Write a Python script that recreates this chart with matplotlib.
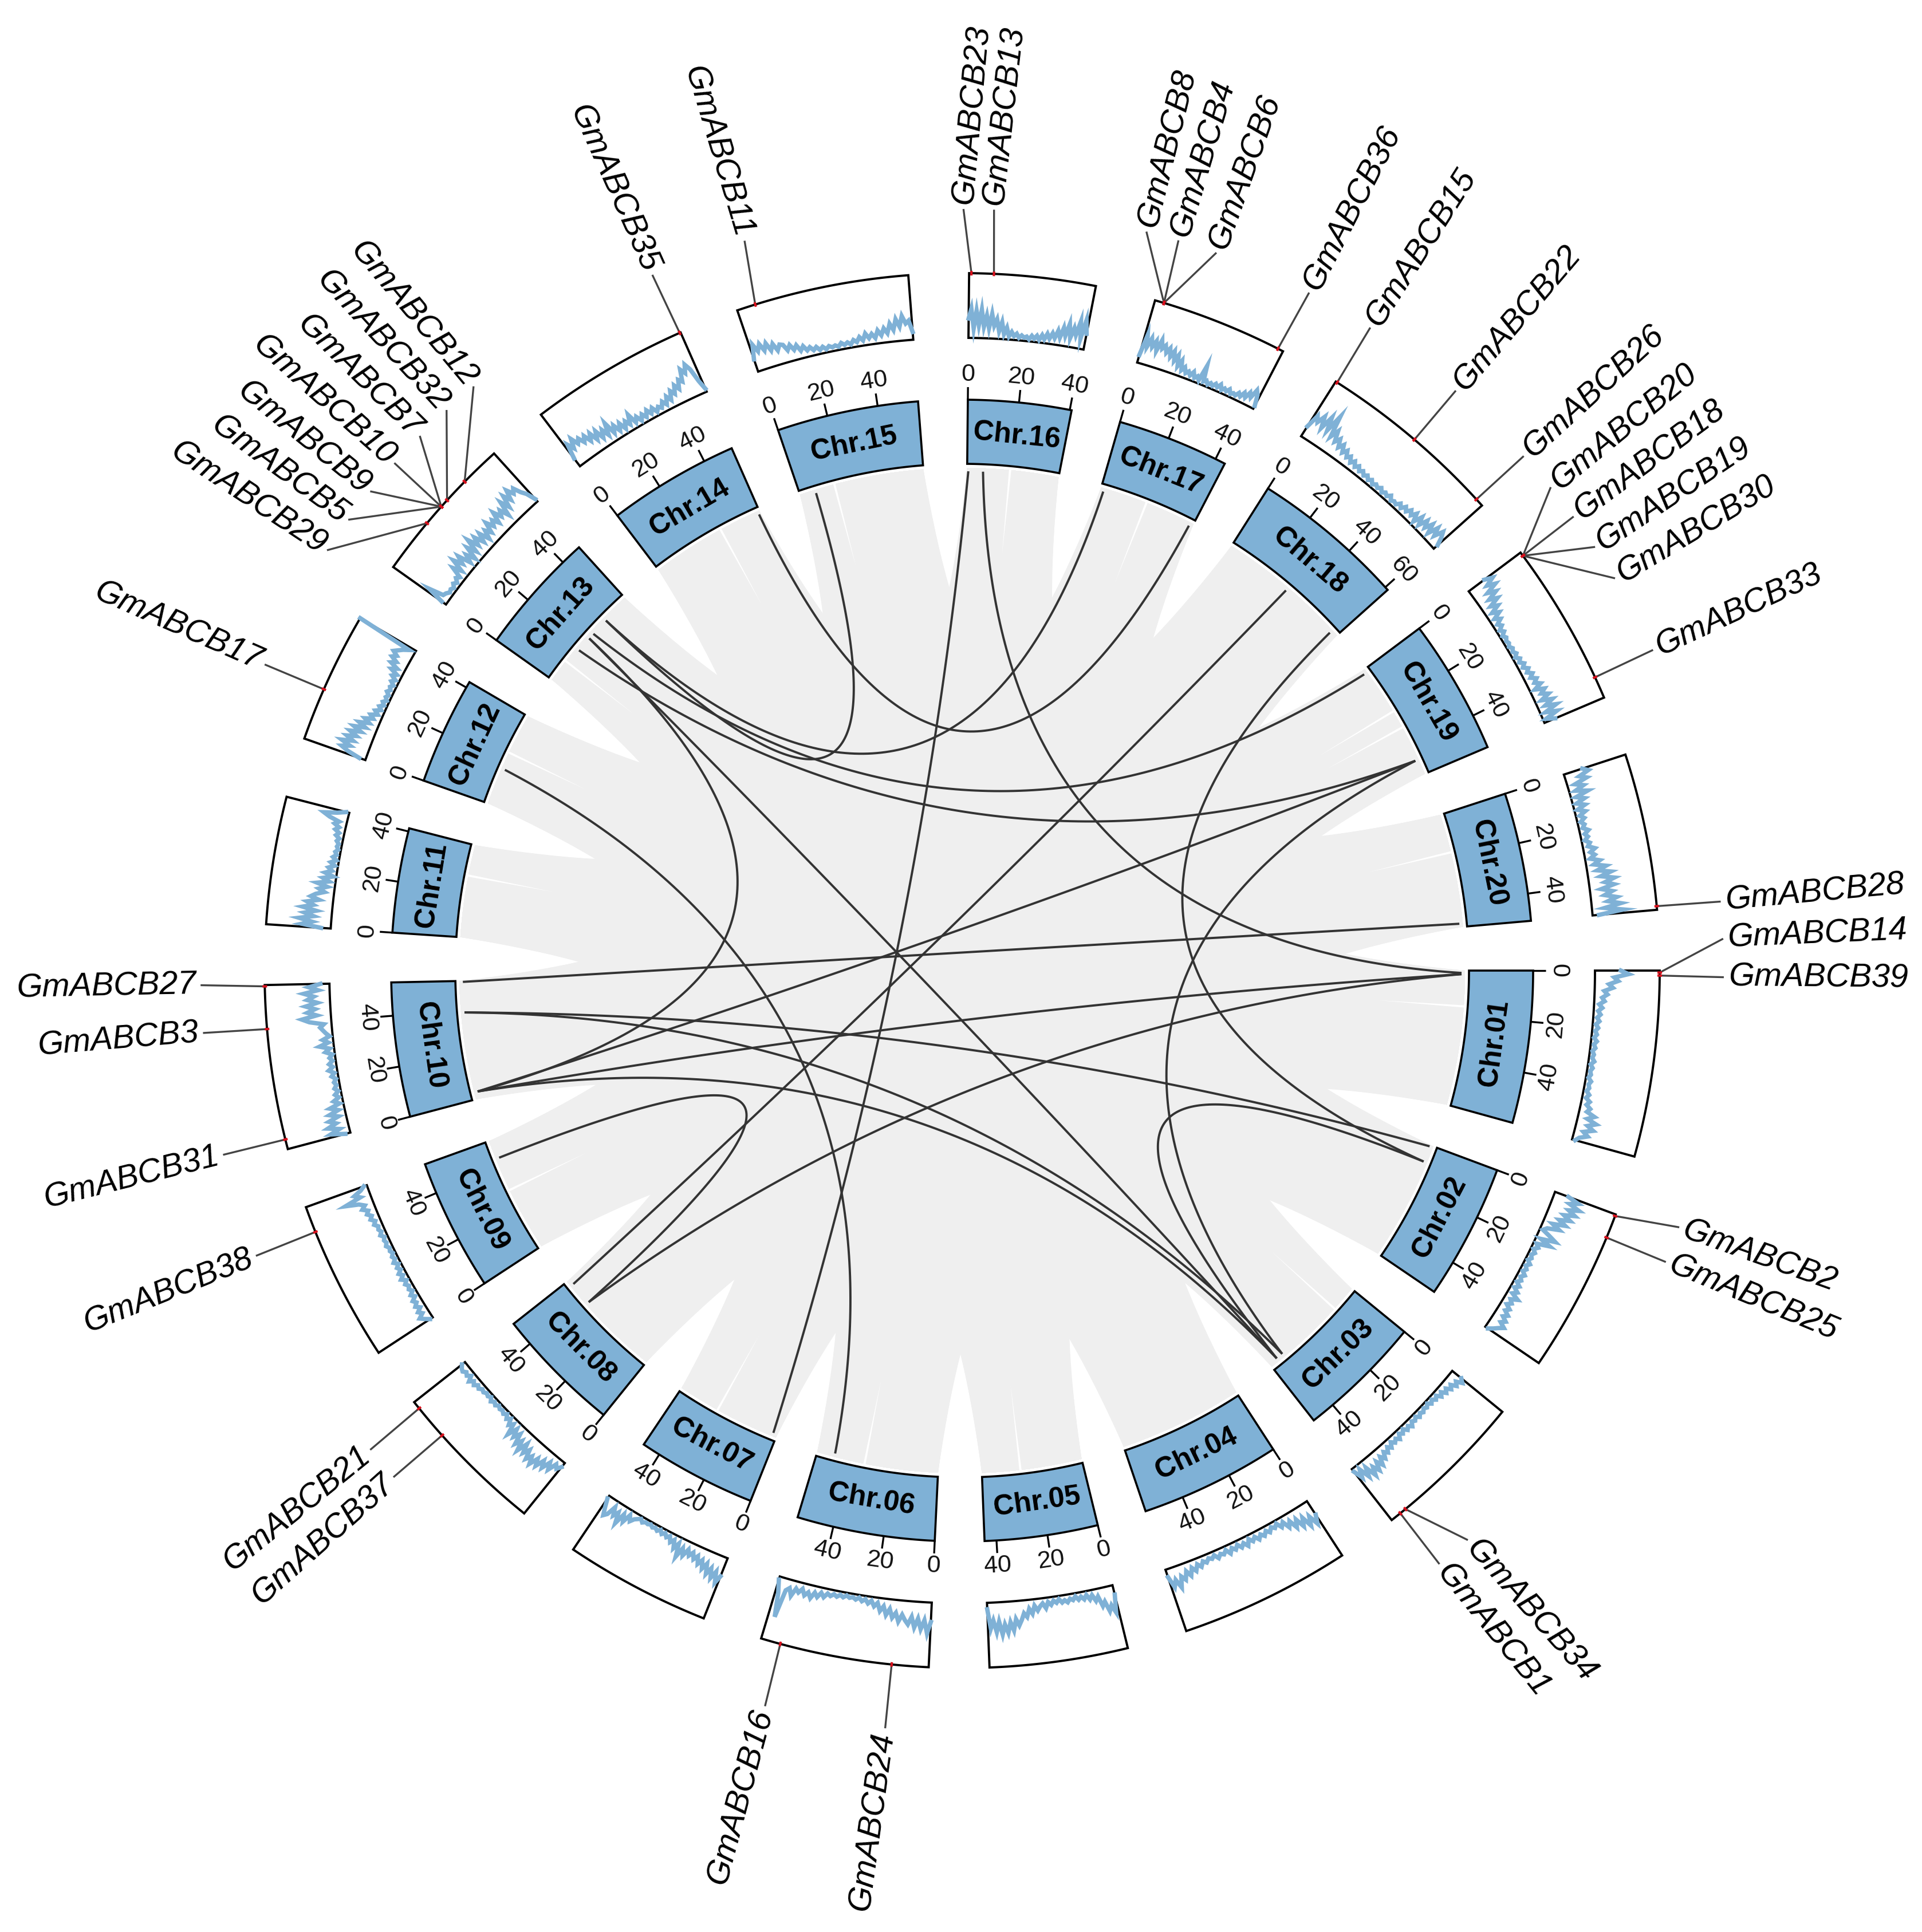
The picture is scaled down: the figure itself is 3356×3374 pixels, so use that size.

import numpy as np
import matplotlib
matplotlib.use("Agg")
import matplotlib.pyplot as plt
from matplotlib.patches import Polygon

plt.rcParams['font.family'] = ['Liberation Sans', 'DejaVu Sans']

#%% Data.
chr_names = ["Chr.%02d" % i for i in range(1, 21)]
# Chromosome length, in map units of the ring.
chr_len = [56.8, 50.6, 46.8, 52.4, 42.2, 51.4, 44.6, 47.3, 49.2, 50.1,
           39.0, 40.1, 45.9, 49.0, 52.8, 38.5, 41.6, 58.0, 50.6, 47.9]
# One Mb of the tick labels in map units.
tick_unit = 0.945

# Gene density tracks, 0 at the inner edge of the box.
chr01 = [.40,.52,.30,.36,.22,.28,.15,.20,.12,.16,.08,.13,.07,.11,.06,.10,.05,.09,.05,.08,.04,.09,.05,.08,.04,.07,.05,.09,.04,.08,.05,.07,.04,.09,.06,.08,.05,.10,.06,.13,.09,.16,.12,.25,.15,.30,.18,.28,.14,.22,.10,.05]
chr02 = [.22,.40,.28,.45,.30,.42,.26,.38,.22,.34,.15,.28,.10,.05,.18,.30,.08,.25,.05,.10,.04,.09,.05,.08,.04,.10,.05,.09,.05,.11,.06,.10,.05,.12,.06,.14,.08,.20,.10,.15,.09,.17,.12,.20,.14,.22,.16,.25,.18,.12,.05]
chr03 = [.18,.24,.15,.20,.12,.17,.10,.15,.08,.13,.06,.10,.05,.09,.04,.08,.05,.09,.06,.10,.05,.09,.06,.12,.07,.11,.05,.10,.06,.13,.08,.12,.07,.14,.09,.16,.11,.20,.13,.25,.15,.28,.18,.30,.12,.25,.08,.20,.05]
chr04 = [.25,.38,.22,.35,.18,.30,.15,.26,.12,.20,.08,.14,.05,.10,.06,.12,.07,.13,.08,.14,.07,.12,.06,.15,.08,.13,.06,.12,.07,.14,.06,.11,.08,.13,.06,.10,.07,.12,.08,.15,.09,.18,.11,.22,.13,.25,.18,.34,.20,.30,.12]
chr05 = [.15,.42,.30,.38,.22,.28,.12,.18,.08,.14,.06,.12,.07,.11,.05,.10,.07,.12,.08,.11,.05,.10,.06,.12,.07,.16,.08,.12,.18,.10,.22,.14,.26,.20,.30,.38,.28,.45,.32,.48,.35,.50,.30,.46,.28,.40,.10]
chr06 = [.30,.48,.28,.42,.26,.40,.24,.36,.30,.22,.33,.20,.28,.15,.25,.12,.20,.08,.14,.06,.11,.05,.09,.04,.08,.05,.07,.04,.08,.05,.09,.06,.10,.07,.14,.08,.16,.10,.20,.12,.18,.09,.16,.11,.24,.13,.18,.62,.25,.05]
chr07 = [.30,.42,.26,.38,.24,.35,.20,.30,.18,.26,.15,.22,.13,.20,.12,.24,.14,.30,.10,.20,.08,.14,.06,.10,.05,.09,.04,.08,.05,.07,.04,.06,.05,.08,.04,.07,.10,.16,.08,.22,.12,.30,.14,.22,.10,.25,.30,.18,.05]
chr08 = [.08,.15,.10,.24,.14,.28,.18,.32,.22,.36,.25,.34,.20,.30,.16,.33,.18,.28,.12,.22,.10,.25,.08,.14,.05,.10,.04,.08,.05,.07,.04,.08,.05,.09,.04,.07,.05,.08,.06,.10,.07,.12,.08,.14,.06,.11,.08,.12,.10,.06]
chr09 = [.05,.12,.18,.10,.15,.08,.14,.09,.13,.06,.11,.05,.09,.06,.10,.05,.12,.06,.11,.05,.09,.04,.10,.05,.08,.04,.07,.05,.09,.06,.08,.05,.10,.06,.09,.07,.12,.08,.14,.10,.16,.12,.20,.14,.22,.42,.16,.24,.12,.05]
chr10 = [.08,.30,.15,.32,.18,.28,.12,.25,.10,.22,.06,.14,.05,.10,.04,.09,.05,.08,.04,.10,.05,.13,.06,.11,.05,.09,.04,.14,.07,.22,.08,.16,.05,.10,.14,.18,.12,.34,.45,.22,.36,.24,.38,.20,.35,.25,.40,.18,.32,.14]
chr11 = [.15,.45,.30,.50,.28,.42,.25,.46,.30,.40,.22,.35,.28,.15,.24,.12,.28,.10,.20,.05,.18,.08,.14,.05,.12,.04,.10,.05,.08,.04,.07,.05,.09,.06,.12,.08,.15,.10,.18,.12,.28,.38,.18,.05]
chr12 = [.10,.30,.42,.30,.45,.28,.40,.26,.38,.22,.35,.18,.30,.15,.24,.12,.18,.08,.14,.06,.11,.05,.09,.04,.08,.05,.10,.06,.09,.05,.11,.06,.14,.08,.20,.12,.25,.18,.28,.22,.30,.24,.18,.10,1.0]
chr13 = [.08,.35,.12,.10,.06,.08,.05,.10,.06,.12,.08,.25,.12,.32,.18,.30,.10,.22,.08,.28,.14,.35,.18,.30,.15,.28,.12,.25,.16,.32,.20,.28,.18,.35,.22,.30,.16,.38,.24,.42,.30,.45,.34,.40,.28,.20,.05]
chr14 = [.15,.38,.28,.42,.30,.36,.26,.34,.22,.32,.18,.30,.15,.26,.14,.32,.12,.22,.10,.20,.08,.18,.10,.24,.08,.15,.06,.14,.07,.16,.08,.15,.06,.12,.08,.16,.09,.20,.12,.25,.18,.30,.22,.35,.30,.48,.40,.52,.42,.20,.05]
chr15 = [.20,.42,.30,.40,.28,.38,.25,.34,.22,.30,.28,.18,.25,.16,.22,.12,.18,.10,.14,.08,.12,.06,.10,.05,.09,.06,.08,.05,.10,.06,.09,.05,.11,.07,.14,.08,.18,.10,.16,.09,.20,.12,.22,.14,.28,.18,.34,.22,.38,.26,.30,.12]
chr16 = [.30,.45,.15,.42,.20,.44,.18,.35,.16,.38,.20,.30,.12,.26,.08,.18,.05,.12,.06,.10,.04,.08,.05,.07,.03,.09,.05,.10,.04,.12,.06,.15,.08,.17,.10,.22,.12,.28,.16,.35,.14,.30,.20,.42,.16,.45,.25]
chr17 = [.12,.45,.28,.42,.30,.40,.26,.44,.32,.38,.28,.36,.24,.34,.20,.30,.14,.24,.10,.16,.08,.12,.07,.14,.06,.10,.05,.30,.06,.09,.04,.08,.05,.10,.06,.12,.05,.09,.06,.11,.05,.08,.06,.12,.08,.16,.10,.20,.14,.28,.22,.05]
chr18 = [.18,.40,.32,.45,.28,.50,.30,.58,.25,.38,.22,.30,.18,.26,.15,.22,.13,.18,.10,.16,.09,.14,.08,.12,.07,.11,.06,.10,.05,.09,.06,.10,.05,.09,.06,.11,.05,.08,.06,.12,.07,.14,.09,.16,.10,.18,.06,.20,.08,.22,.12,.24,.10,.26,.14,.28,.20,.08]
chr19 = [.30,.42,.28,.40,.22,.34,.18,.30,.14,.24,.10,.20,.08,.16,.07,.12,.05,.10,.04,.08,.05,.07,.04,.08,.05,.09,.04,.10,.06,.12,.07,.14,.09,.16,.10,.18,.12,.20,.08,.22,.14,.24,.10,.26,.12,.28,.08,.25,.05,.18]
chr20 = [.30,.38,.22,.32,.12,.24,.10,.28,.08,.20,.06,.18,.05,.16,.06,.12,.05,.10,.06,.14,.07,.11,.05,.12,.08,.18,.10,.16,.08,.22,.12,.30,.16,.36,.20,.40,.25,.38,.18,.34,.22,.40,.26,.45,.20,.48,.10]
tracks = [chr01, chr02, chr03, chr04, chr05, chr06, chr07, chr08, chr09, chr10,
          chr11, chr12, chr13, chr14, chr15, chr16, chr17, chr18, chr19, chr20]

# Duplicated gene pairs: chromosome, position, chromosome, position.
links = [(20, 46.5, 10, 49.7), (16, 0.5, 7, 1.7), (16, 6.7, 1, 1.0), (10, 36.8, 2, 0.5),
         (10, 36.8, 3, 40.0), (10, 3.0, 3, 43.0), (10, 3.0, 13, 23.3), (10, 3.0, 19, 44.0),
         (10, 3.0, 1, 1.5), (9, 41.2, 8, 34.9), (8, 44.9, 18, 29.5), (8, 34.9, 1, 1.5),
         (12, 15.7, 6, 44.0), (13, 23.3, 3, 43.0), (13, 33.6, 15, 6.6), (13, 33.6, 17, 1.3),
         (14, 48.3, 17, 40.2), (13, 16.7, 19, 44.0), (13, 25.9, 19, 1.6), (19, 44.0, 3, 40.0),
         (18, 55.2, 2, 7.4), (2, 7.4, 3, 43.0)]

# Gene labels: name, chromosome, position.
gene_names = ["GmABCB28", "GmABCB14", "GmABCB39", "GmABCB2", "GmABCB25", "GmABCB34", "GmABCB1",
              "GmABCB24", "GmABCB16", "GmABCB37", "GmABCB21", "GmABCB38", "GmABCB31", "GmABCB3",
              "GmABCB27", "GmABCB17", "GmABCB29", "GmABCB5", "GmABCB9", "GmABCB10", "GmABCB7",
              "GmABCB32", "GmABCB12", "GmABCB35", "GmABCB11", "GmABCB23", "GmABCB13", "GmABCB8",
              "GmABCB4", "GmABCB6", "GmABCB36", "GmABCB15", "GmABCB22", "GmABCB26", "GmABCB20",
              "GmABCB18", "GmABCB19", "GmABCB30", "GmABCB33"]
gene_chr = [20, 1, 1, 2, 2, 3, 3, 6, 6, 8, 8, 9, 10, 10, 10, 12, 13, 13, 13, 13, 13, 13, 13,
            14, 15, 16, 16, 17, 17, 17, 17, 18, 18, 18, 19, 19, 19, 19, 19]
gene_pos = [46.8, 0.6, 1.5, 0.5, 7.5, 41.5, 43.5, 11.2, 45.4, 34.2, 44.9, 41.2, 3.0, 36.8, 49.7,
            16.0, 16.7, 23.3, 23.3, 23.3, 23.3, 25.9, 33.6, 48.7, 5.7, 0.7, 7.5, 2.8, 2.8, 2.8,
            39.9, 0.5, 29.5, 55.5, 1.2, 1.2, 1.2, 1.2, 43.9]
# Clockwise angle where each label sits (degrees from 3 o'clock).
label_angle = [354.8, 357.6, 0.5, 19.7, 22.5, 48.4, 51.2, 95.8, 105.0, 138.3, 141.0, 158.0, 166.0,
               175.3, 178.9, 203.7, 213.5, 216.3, 219.0, 221.8, 224.6, 227.4, 230.1, 246.0, 253.4,
               270.1, 272.4, 284.0, 286.5, 289.5, 297.1, 302.4, 310.4, 317.5, 320.6, 323.4, 326.2,
               329.0, 335.1]
# A few labels lean off the radial direction.
label_lean = {"GmABCB23": -5, "GmABCB13": -4, "GmABCB24": -2}

# Thin white gaps in the grey ribbons: chromosome, position.
gap_chr = [14, 13, 12, 11, 20, 1, 19, 19, 16, 17, 6, 5, 9, 3, 15, 7]
gap_pos = [31, 9.7, 23, 26, 16.3, 15, 21.3, 29, 18, 20, 31, 26, 27, 11, 15, 27]

tick_step = 20

#%% Layout, in pixels of the output.
W, H = 3356, 3374
cx, cy = 1680, H - 1695
gap_deg = 5.0
r_grey = 878
r_link = 872
r_in, r_out = 885, 997
r_box0, r_box1 = 1105, 1218
r_tick = 1019
r_ticklab = 1041
r_chrlab = 938
r_label = 1330

blue = "#7FB1D6"
grey = "#EFEFEF"
dark = "#333333"

deg_per_mb = (360 - len(chr_len) * gap_deg) / sum(chr_len)
chr_start = []
c = 0
for n in chr_len:
    chr_start.append(c)
    c += n * deg_per_mb + gap_deg


def cw_angle(ch, pos):
    return chr_start[ch - 1] + pos * deg_per_mb


def xy(r, cw):
    t = np.radians(cw)
    return cx + r * np.cos(t), cy - r * np.sin(t)


def band(ch, r0, r1):
    # Outline of a piece of ring.
    a = np.linspace(cw_angle(ch, 0), cw_angle(ch, chr_len[ch - 1]), 40)
    x0, y0 = xy(r0, a)
    x1, y1 = xy(r1, a[::-1])
    return np.column_stack([np.r_[x0, x1], np.r_[y0, y1]])


def curve(r, cw_a, cw_b, n=60):
    # Same kind of quadratic curve circlize draws: the closer the two ends, the
    # further it stays from the centre.
    a = np.array(xy(r, cw_a)) - [cx, cy]
    b = np.array(xy(r, cw_b)) - [cx, cy]
    d = abs((cw_a - cw_b + 180) % 360 - 180)
    half = np.cos(np.radians(d / 2))
    apex = 0.52 * r * max(half, 0) ** 0.8
    s = a + b
    norm = np.hypot(*s)
    if norm < 1e-6:
        ctrl = np.zeros(2)
    else:
        ctrl = s / norm * (2 * apex - r * half)
    t = np.linspace(0, 1, n)[:, None]
    p = (1 - t) ** 2 * a + 2 * t * (1 - t) * ctrl + t ** 2 * b
    return p + [cx, cy]


def nice_rotation(cw):
    # Text along the ring, kept readable.
    cw = cw % 360
    theta = -cw if cw < 180 else 360 - cw
    if theta < 0:
        return theta + 90
    return theta - 90


fig = plt.figure(figsize=(W / 100, H / 100), dpi=100)
ax = fig.add_axes([0, 0, 1, 1])
ax.set_xlim(0, W)
ax.set_ylim(0, H)
ax.axis("off")

#%% Grey ribbons between all chromosomes that are not close neighbours.
n_chr = len(chr_len)
for i in range(1, n_chr + 1):
    for j in range(i + 1, n_chr + 1):
        sep = min(j - i, n_chr - (j - i))
        if sep < 4:
            continue
        ca0, ca1 = cw_angle(i, 0), cw_angle(i, chr_len[i - 1])
        cb0, cb1 = cw_angle(j, 0), cw_angle(j, chr_len[j - 1])
        arc_a = np.linspace(ca0, ca1, 20)
        arc_b = np.linspace(cb0, cb1, 20)
        ax_, ay_ = xy(r_grey, arc_a)
        bx_, by_ = xy(r_grey, arc_b)
        p = np.vstack([np.column_stack([ax_, ay_]), curve(r_grey, ca1, cb0),
                       np.column_stack([bx_, by_]), curve(r_grey, cb1, ca0)])
        ax.add_patch(Polygon(p, closed=True, fc=grey, ec="none", zorder=1))

# Thin white slivers.
for ch, pos in zip(gap_chr, gap_pos):
    a = cw_angle(ch, pos)
    p0 = xy(r_grey + 2, a - 0.13)
    p1 = xy(r_grey + 2, a + 0.13)
    p2 = xy(r_grey - 150, a)
    ax.add_patch(Polygon([p0, p1, p2], closed=True, fc="white", ec="none", zorder=1.5))

#%% Dark links.
for ch_a, pos_a, ch_b, pos_b in links:
    p = curve(r_link, cw_angle(ch_a, pos_a), cw_angle(ch_b, pos_b), n=120)
    ax.plot(p[:, 0], p[:, 1], color=dark, lw=2.8, solid_capstyle="butt", zorder=2)

#%% Chromosome ring, ticks and track boxes.
for k in range(n_chr):
    ch = k + 1
    ln = chr_len[k]
    ax.add_patch(Polygon(band(ch, r_in, r_out), closed=True, fc=blue, ec="black", lw=2.6, zorder=3))
    mid = cw_angle(ch, ln / 2)
    mx, my = xy(r_chrlab, mid)
    ax.text(mx, my, chr_names[k], fontsize=36, fontweight="bold", ha="center", va="center",
            rotation=nice_rotation(mid), rotation_mode="anchor", zorder=5)
    tick = 0
    while tick * tick_unit < ln - 0.5:
        a = cw_angle(ch, tick * tick_unit)
        x0, y0 = xy(r_out, a)
        x1, y1 = xy(r_tick, a)
        ax.plot([x0, x1], [y0, y1], color="black", lw=2.4, solid_capstyle="butt", zorder=3)
        tx, ty = xy(r_ticklab, a)
        ax.text(tx, ty, str(tick), fontsize=31, ha="center", va="center",
                rotation=nice_rotation(a), rotation_mode="anchor", color="#111111", zorder=5)
        tick += tick_step

    ax.add_patch(Polygon(band(ch, r_box0, r_box1), closed=True, fc="white", ec="black", lw=2.8, zorder=3))
    values = np.array(tracks[k])
    pos = np.linspace(0, ln, len(values))
    rr = r_box0 + values * (r_box1 - r_box0)
    lx, ly = xy(rr, cw_angle(ch, pos))
    ax.plot(lx, ly, color=blue, lw=5.5, solid_joinstyle="miter", zorder=4)

#%% Gene labels.
for name, ch, pos, la in zip(gene_names, gene_chr, gene_pos, label_angle):
    a = cw_angle(ch, pos)
    x0, y0 = xy(r_box1, a)
    x1, y1 = xy(r_label, la)
    ax.plot([x0, x1], [y0, y1], color="#444444", lw=2.4, solid_capstyle="butt", zorder=3.5)
    rx0, ry0 = xy(r_box1 - 4, a)
    rx1, ry1 = xy(r_box1 + 4, a)
    ax.plot([rx0, rx1], [ry0, ry1], color="#D8101C", lw=3, solid_capstyle="butt", zorder=4)
    tx, ty = xy(r_label + 8, la)
    c_la = la % 360
    # Labels on the right run outward, on the left they end at the ring.
    if c_la < 90 or c_la > 270:
        rot, ha = -c_la, "left"
    else:
        rot, ha = 180 - c_la, "right"
    rot += label_lean.get(name, 0)
    ax.text(tx, ty, name, fontsize=41.5, fontstyle="italic", ha=ha, va="center",
            rotation=rot, rotation_mode="anchor", zorder=5)

fig.savefig("out.png", dpi=100, facecolor="white")
